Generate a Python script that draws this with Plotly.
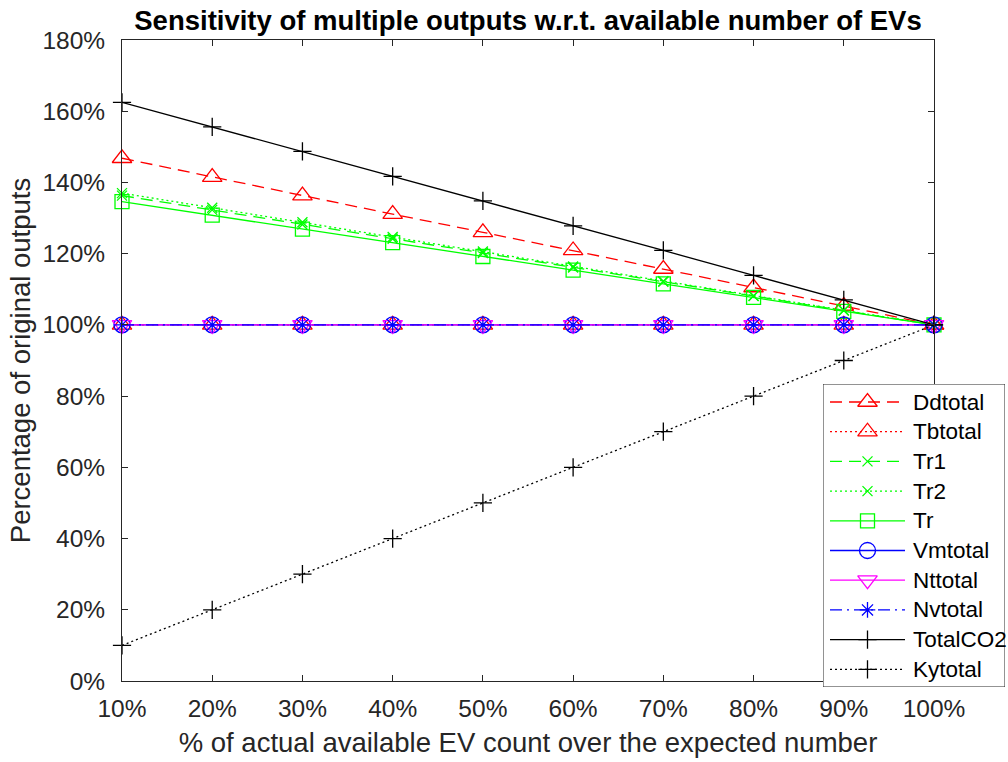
import plotly.graph_objects as go

# EV availability (% of expected count)
ev_share = [10, 20, 30, 40, 50, 60, 70, 80, 90, 100]

# Outputs as % of the original values
ddtotal = [146.8, 141.5, 136.3, 131.1, 126.0, 120.9, 115.7, 110.5, 105.3, 100.0]
tbtotal = [100, 100, 100, 100, 100, 100, 100, 100, 100, 100]
tr1 = [136.3, 132.3, 128.2, 124.2, 120.2, 116.1, 112.1, 108.1, 104.0, 100.0]
tr2 = [137.0, 132.9, 128.8, 124.7, 120.6, 116.4, 112.3, 108.2, 104.1, 100.0]
tr = [134.6, 130.8, 126.9, 123.1, 119.2, 115.4, 111.5, 107.7, 103.8, 100.0]
vmtotal = [100, 100, 100, 100, 100, 100, 100, 100, 100, 100]
nttotal = [100, 100, 100, 100, 100, 100, 100, 100, 100, 100]
nvtotal = [100, 100, 100, 100, 100, 100, 100, 100, 100, 100]
totalco2 = [162.5, 155.6, 148.7, 141.7, 134.8, 127.8, 120.9, 113.9, 107.0, 100.0]
kytotal = [10, 20, 30, 40, 50, 60, 70, 80, 90, 100]

x_ticks = [10, 20, 30, 40, 50, 60, 70, 80, 90, 100]
y_ticks = [0, 20, 40, 60, 80, 100, 120, 140, 160, 180]

RED, GREEN, BLUE, MAGENTA, BLACK = "#FF0000", "#00FF00", "#0000FF", "#FF00FF", "#000000"

# MATLAB-like line styles: '-', '--', ':', '-.'
SOLID = "solid"
DASHED = "12px,7px"
DOTTED = "2px,3px"
DASHDOT = "12px,5px,2px,5px"

series = [
    ("Ddtotal", ddtotal, RED, DASHED, "triangle-up-open", 17),
    ("Tbtotal", tbtotal, RED, DOTTED, "triangle-up-open", 17),
    ("Tr1", tr1, GREEN, DASHED, "x-thin-open", 10),
    ("Tr2", tr2, GREEN, DOTTED, "x-thin-open", 10),
    ("Tr", tr, GREEN, SOLID, "square-open", 14),
    ("Vmtotal", vmtotal, BLUE, SOLID, "circle-open", 16),
    ("Nttotal", nttotal, MAGENTA, SOLID, "triangle-down-open", 17),
    ("Nvtotal", nvtotal, BLUE, DASHDOT, "asterisk-open", 13),
    ("TotalCO2", totalco2, BLACK, SOLID, "cross-thin-open", 13),
    ("Kytotal", kytotal, BLACK, DOTTED, "cross-thin-open", 13),
]

W, H = 1008, 762
FONT = "Liberation Sans, Arial, sans-serif"
AXIS_COLOR = "#262626"

# pixel boxes of the main axes and of the legend panel
PLOT_L, PLOT_R, PLOT_T, PLOT_B = 122, 934, 40, 681
LEG_L, LEG_R, LEG_T, LEG_B = 823, 1005, 384, 687
LEG_W, LEG_H = LEG_R - LEG_L, LEG_B - LEG_T
ROW0, ROW_STEP = 18, 29.7
LINE_X0, LINE_X1, TEXT_X = 7, 82, 88

fig = go.Figure()
for name, vals, color, dash, symbol, size in series:
    fig.add_trace(go.Scatter(
        x=ev_share, y=vals, name=name, mode="lines+markers",
        line=dict(color=color, dash=dash, width=1.3),
        marker=dict(symbol=symbol, size=size, color=color,
                    line=dict(color=color, width=1.3)),
        cliponaxis=False, showlegend=False,
    ))

# legend panel: drawn on its own pixel-unit axes so the sample lines are long
for i, (name, vals, color, dash, symbol, size) in enumerate(series):
    row = ROW0 + i * ROW_STEP
    fig.add_trace(go.Scatter(
        x=[LINE_X0, LINE_X1], y=[row, row], mode="lines",
        line=dict(color=color, dash=dash, width=1.3),
        xaxis="x2", yaxis="y2", showlegend=False, hoverinfo="skip",
    ))
    fig.add_trace(go.Scatter(
        x=[(LINE_X0 + LINE_X1) / 2], y=[row], mode="markers",
        marker=dict(symbol=symbol, size=size, color=color,
                    line=dict(color=color, width=1.3)),
        xaxis="x2", yaxis="y2", showlegend=False, hoverinfo="skip",
    ))
    fig.add_annotation(
        x=TEXT_X, y=row, xref="x2", yref="y2", text=name, showarrow=False,
        xanchor="left", yanchor="middle",
        font=dict(family=FONT, size=22.5, color="black"),
    )

fig.add_shape(
    type="rect", xref="x2", yref="y2", x0=0, x1=LEG_W, y0=0, y1=LEG_H,
    fillcolor="white", line=dict(color=AXIS_COLOR, width=1), layer="below",
)

axis_common = dict(
    showline=True, linecolor=AXIS_COLOR, linewidth=1, mirror="ticks",
    ticks="inside", ticklen=6, tickcolor=AXIS_COLOR, showgrid=False, zeroline=False,
    tickfont=dict(size=24.5, color=AXIS_COLOR), automargin=False,
)

fig.update_layout(
    width=W, height=H,
    margin=dict(l=0, r=0, t=0, b=0, autoexpand=False),
    paper_bgcolor="white", plot_bgcolor="white",
    font=dict(family=FONT, size=24, color=AXIS_COLOR),
    title=dict(
        text="<b>Sensitivity of multiple outputs w.r.t. available number of EVs</b>",
        x=(PLOT_L + PLOT_R) / 2 / W, xanchor="center",
        y=1 - 20 / H, yanchor="middle", automargin=False,
        font=dict(family=FONT, size=27.5, color="black"),
    ),
    xaxis=dict(
        domain=[PLOT_L / W, PLOT_R / W],
        range=[10, 100], tickvals=x_ticks, ticktext=[f"{v}%" for v in x_ticks],
        ticklabelstandoff=6,
        title=dict(text="% of actual available EV count over the expected number",
                   font=dict(size=27.5, color=AXIS_COLOR), standoff=11),
        **axis_common,
    ),
    yaxis=dict(
        domain=[1 - PLOT_B / H, 1 - PLOT_T / H],
        range=[0, 180], tickvals=y_ticks, ticktext=[f"{v}%" for v in y_ticks],
        ticklabelstandoff=11,
        title=dict(text="Percentage of original outputs",
                   font=dict(size=27.5, color=AXIS_COLOR), standoff=3),
        **axis_common,
    ),
    xaxis2=dict(
        domain=[LEG_L / W, LEG_R / W], range=[0, LEG_W], anchor="y2",
        visible=False, fixedrange=True, automargin=False,
    ),
    yaxis2=dict(
        domain=[1 - LEG_B / H, 1 - LEG_T / H], range=[LEG_H, 0], anchor="x2",
        visible=False, fixedrange=True, automargin=False,
    ),
    showlegend=False,
)

fig.write_html("out.html")
